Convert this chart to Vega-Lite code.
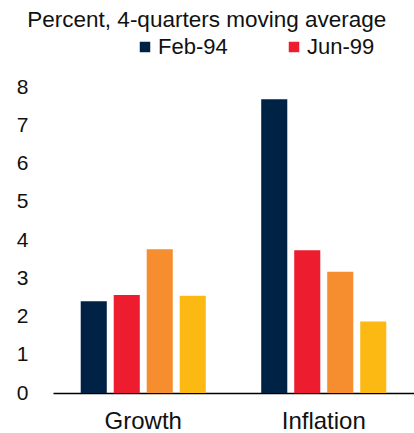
{
  "$schema": "https://vega.github.io/schema/vega-lite/v6.json",
  "autosize": "none",
  "width": 361,
  "height": 306,
  "padding": {"left": 53, "top": 87, "right": 0, "bottom": 40},
  "background": "white",
  "view": {"stroke": null},
  "title": {
    "text": "Percent, 4-quarters moving average",
    "anchor": "start",
    "dx": 11,
    "offset": 5,
    "font": "Liberation Sans",
    "fontSize": 22.5,
    "fontWeight": "normal",
    "color": "#111111"
  },
  "data": {
    "values": [
      {"category": "Growth", "series": "Feb-94", "value": 2.4},
      {"category": "Growth", "series": "Jun-99", "value": 2.56},
      {"category": "Growth", "series": "Series 3", "value": 3.76},
      {"category": "Growth", "series": "Series 4", "value": 2.54},
      {"category": "Inflation", "series": "Feb-94", "value": 7.68},
      {"category": "Inflation", "series": "Jun-99", "value": 3.73},
      {"category": "Inflation", "series": "Series 3", "value": 3.17},
      {"category": "Inflation", "series": "Series 4", "value": 1.87}
    ]
  },
  "mark": {"type": "bar"},
  "encoding": {
    "x": {
      "field": "category",
      "type": "nominal",
      "sort": ["Growth", "Inflation"],
      "scale": {"paddingInner": 0, "paddingOuter": 0},
      "axis": {
        "title": null,
        "labelAngle": 0,
        "ticks": false,
        "domainColor": "black",
        "domainWidth": 1.5,
        "labelFont": "Liberation Sans",
        "labelFontSize": 24,
        "labelColor": "#111111",
        "labelPadding": 16
      }
    },
    "xOffset": {
      "field": "series",
      "type": "nominal",
      "sort": ["Feb-94", "Jun-99", "Series 3", "Series 4"],
      "scale": {"paddingInner": 0.21, "paddingOuter": 0.84}
    },
    "y": {
      "field": "value",
      "type": "quantitative",
      "scale": {"domain": [0, 8], "nice": false},
      "axis": {
        "title": null,
        "grid": false,
        "domain": false,
        "ticks": false,
        "values": [0, 1, 2, 3, 4, 5, 6, 7, 8],
        "labelFont": "Liberation Sans",
        "labelFontSize": 21,
        "labelColor": "#111111",
        "labelPadding": 25
      }
    },
    "color": {
      "field": "series",
      "type": "nominal",
      "scale": {
        "domain": ["Feb-94", "Jun-99", "Series 3", "Series 4"],
        "range": ["#002244", "#ED1C2E", "#F68D2E", "#FDB913"]
      },
      "legend": {
        "title": null,
        "values": ["Feb-94", "Jun-99"],
        "orient": "none",
        "direction": "horizontal",
        "legendX": 81,
        "legendY": -51,
        "symbolType": "square",
        "symbolSize": 110,
        "symbolStrokeWidth": 0,
        "labelFont": "Liberation Sans",
        "labelFontSize": 22,
        "labelColor": "#111111",
        "labelOffset": 2,
        "columnPadding": 55
      }
    }
  }
}
